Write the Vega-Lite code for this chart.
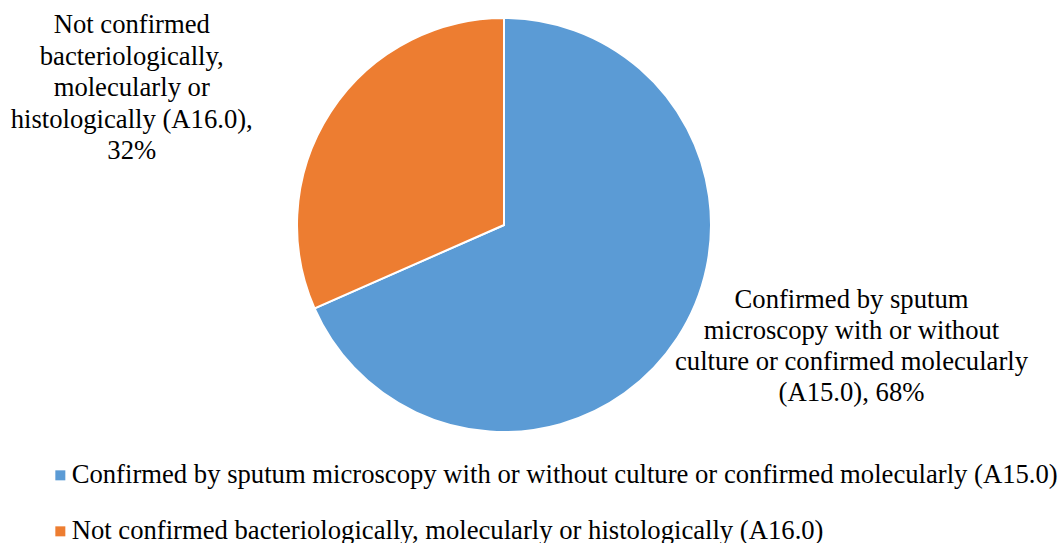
{
  "$schema": "https://vega.github.io/schema/vega-lite/v6.json",
  "width": 1008,
  "height": 450,
  "padding": 0,
  "background": "white",
  "config": {"view": {"stroke": null}, "font": "Liberation Serif"},
  "data": {
    "values": [
      {"category": "Confirmed by sputum microscopy with or without culture or confirmed molecularly (A15.0)", "value": 68.4, "label": "Confirmed by sputum\nmicroscopy with or without\nculture or confirmed molecularly\n(A15.0), 68%"},
      {"category": "Not confirmed bacteriologically, molecularly or histologically (A16.0)", "value": 31.6, "label": "Not confirmed\nbacteriologically,\nmolecularly or\nhistologically (A16.0),\n32%"}
    ]
  },
  "encoding": {
    "theta": {"field": "value", "type": "quantitative", "stack": true},
    "color": {
      "field": "category",
      "type": "nominal",
      "scale": {
        "domain": ["Confirmed by sputum microscopy with or without culture or confirmed molecularly (A15.0)", "Not confirmed bacteriologically, molecularly or histologically (A16.0)"],
        "range": ["#5B9BD5", "#ED7D31"]
      },
      "legend": {
        "title": null,
        "orient": "none",
        "legendX": 47,
        "legendY": 462,
        "direction": "vertical",
        "symbolType": "square",
        "symbolSize": 100,
        "symbolStrokeWidth": 0,
        "labelFont": "Liberation Serif",
        "labelFontSize": 26.67,
        "labelColor": "#000000",
        "labelLimit": 1200,
        "labelOffset": -2,
        "rowPadding": 28,
        "padding": 0
      }
    }
  },
  "layer": [
    {
      "mark": {"type": "arc", "outerRadius": 207, "stroke": "white", "strokeWidth": 2}
    },
    {
      "mark": {"type": "text", "radius": 300, "dx": -121, "dy": -36, "fontSize": 26.67, "font": "Liberation Serif", "lineBreak": "\n", "lineHeight": 31.5, "align": "center", "baseline": "middle"},
      "encoding": {
        "color": {"value": "#000000"},
        "text": {"condition": {"test": "datum.value < 50", "field": "label"}, "value": ""}
      }
    },
    {
      "mark": {"type": "text", "radius": 200, "dx": 180, "dy": -34, "fontSize": 26.67, "font": "Liberation Serif", "lineBreak": "\n", "lineHeight": 31, "align": "center", "baseline": "middle"},
      "encoding": {
        "color": {"value": "#000000"},
        "text": {"condition": {"test": "datum.value > 50", "field": "label"}, "value": ""}
      }
    }
  ]
}
